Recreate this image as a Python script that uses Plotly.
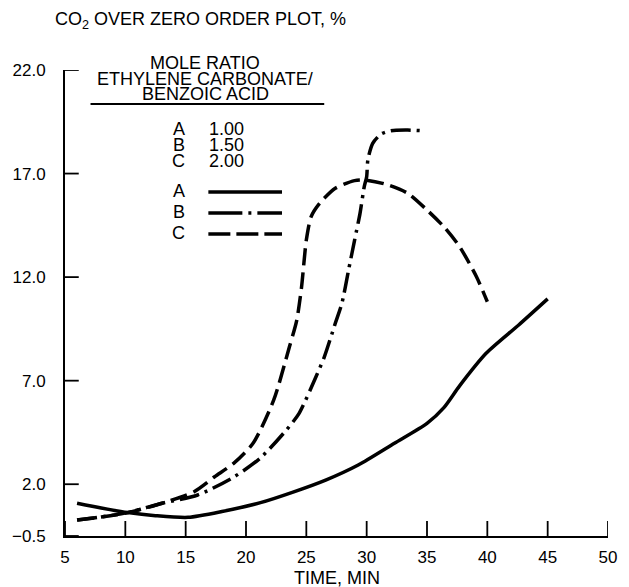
import plotly.graph_objects as go

# Time (min) and CO2 over zero-order plot (%) for each mole ratio
time_a = [6.0, 8.0, 10.2, 12.5, 15.2, 18.0, 21.2, 23.9, 26.6, 29.3, 32.3, 35.0, 36.4, 37.7, 39.9, 42.6, 45.0]
co2_a = [1.08, 0.85, 0.63, 0.48, 0.40, 0.68, 1.11, 1.62, 2.20, 2.93, 3.98, 4.94, 5.70, 6.75, 8.32, 9.69, 10.95]

time_b = [6.0, 8.0, 10.2, 13.05, 16.0, 19.0, 21.2, 23.35, 24.4, 25.8, 26.5, 27.4, 27.95, 28.5,
          29.0, 29.45, 29.8, 30.0, 30.1, 30.5, 31.2, 32.0, 33.4, 34.8]
co2_b = [0.27, 0.42, 0.63, 1.08, 1.48, 2.35, 3.27, 4.62, 5.42, 7.19, 8.16, 9.77, 10.74, 12.34,
         13.79, 15.08, 16.37, 16.85, 17.66, 18.46, 18.91, 19.07, 19.10, 19.06]

time_c = [6.0, 8.0, 10.2, 13.05, 15.7, 17.4, 19.0, 20.6, 22.3, 23.6, 24.2, 24.6, 25.0, 25.4,
          26.1, 27.4, 29.0, 29.85, 31.5, 33.4, 35.0, 36.4, 37.7, 39.1, 40.0]
co2_c = [0.27, 0.42, 0.63, 1.08, 1.64, 2.36, 3.02, 3.99, 6.07, 8.64, 9.90, 11.50, 13.79, 14.92,
         15.56, 16.29, 16.66, 16.69, 16.50, 16.05, 15.24, 14.43, 13.47, 12.02, 10.81]

x_ticks = [5, 10, 15, 20, 25, 30, 35, 40, 45, 50]
y_ticks = [-0.5, 2.0, 7.0, 12.0, 17.0, 22.0]
y_tick_text = ["\u22120.5", "2.0", "7.0", "12.0", "17.0", "22.0"]

ratio_labels = ["A", "B", "C"]
ratio_values = ["1.00", "1.50", "2.00"]

FONT = "Liberation Sans, Arial, Helvetica, sans-serif"
FS = 18
TICK_FS = 17
W, H = 629, 587
L, R, T, B = 61, 15, 70, 51
PW, PH = W - L - R, H - T - B

DASH_A = "solid"
DASH_B = "20px,6px,3px,6px"
DASH_C = "17px,7px"


def px(x):
    return (x - L) / PW


def py(y):
    return (H - B - y) / PH


def label(text, x, y, anchor="center"):
    return dict(text=text, x=px(x), y=py(y), xref="paper", yref="paper",
                xanchor=anchor, yanchor="middle", showarrow=False,
                font=dict(size=FS, color="black", family=FONT))


fig = go.Figure()
for t, v, dash in [(time_a, co2_a, DASH_A), (time_b, co2_b, DASH_B), (time_c, co2_c, DASH_C)]:
    fig.add_trace(go.Scatter(
        x=t, y=v, mode="lines",
        line=dict(color="black", width=3.5, dash=dash, shape="spline", smoothing=0.7),
        showlegend=False, hoverinfo="skip",
    ))

annotations = []
shapes = []

# Tick marks pointing into the plot area
for xv in x_ticks:
    shapes.append(dict(type="line", xref="x", yref="paper", x0=xv, x1=xv,
                       y0=0, y1=15 / PH, line=dict(color="black", width=1.8)))
for yv in y_ticks:
    shapes.append(dict(type="line", xref="paper", yref="y", x0=0, x1=14 / PW,
                       y0=yv, y1=yv, line=dict(color="black", width=1.8)))

# Heading
annotations.append(label("CO<sub>2</sub> OVER ZERO ORDER PLOT, %", 49, 21, "left"))

# Key header
for line, cy in [("MOLE RATIO", 63), ("ETHYLENE CARBONATE/", 79), ("BENZOIC ACID", 94)]:
    annotations.append(label(line, 204, cy))
shapes.append(dict(type="line", xref="paper", yref="paper",
                   x0=px(87), x1=px(325), y0=py(104), y1=py(104),
                   line=dict(color="black", width=2)))

# Ratio table
for lab, val, cy in zip(ratio_labels, ratio_values, [129, 145, 161]):
    annotations.append(label(lab, 177, cy))
    annotations.append(label(val, 206, cy, "left"))

# Line-style key
for lab, dash, cy in zip(ratio_labels, [DASH_A, "34px,6px,3px,6px", "22px,6px"], [191, 212, 233]):
    annotations.append(label(lab, 177, cy))
    shapes.append(dict(type="line", xref="paper", yref="paper",
                       x0=px(207), x1=px(282), y0=py(cy + 1), y1=py(cy + 1),
                       line=dict(color="black", width=3.5, dash=dash)))

# Axis title
annotations.append(label("TIME, MIN", 338, 578))

fig.update_layout(
    width=W, height=H,
    margin=dict(l=L, r=R, t=T, b=B),
    paper_bgcolor="white", plot_bgcolor="white",
    font=dict(family=FONT, size=FS, color="black"),
    annotations=annotations, shapes=shapes,
    xaxis=dict(
        range=[5, 50], tickvals=x_ticks, ticks="", showline=True, linecolor="black",
        linewidth=2, showgrid=False, zeroline=False, ticklabelstandoff=5,
        tickfont=dict(size=TICK_FS, color="black", family=FONT),
    ),
    yaxis=dict(
        range=[-0.5, 22], tickvals=y_ticks, ticktext=y_tick_text, ticks="",
        showline=True, linecolor="black", linewidth=2, showgrid=False, zeroline=False,
        ticklabelstandoff=14,
        tickfont=dict(size=TICK_FS, color="black", family=FONT),
    ),
)

fig.write_html("out.html")
